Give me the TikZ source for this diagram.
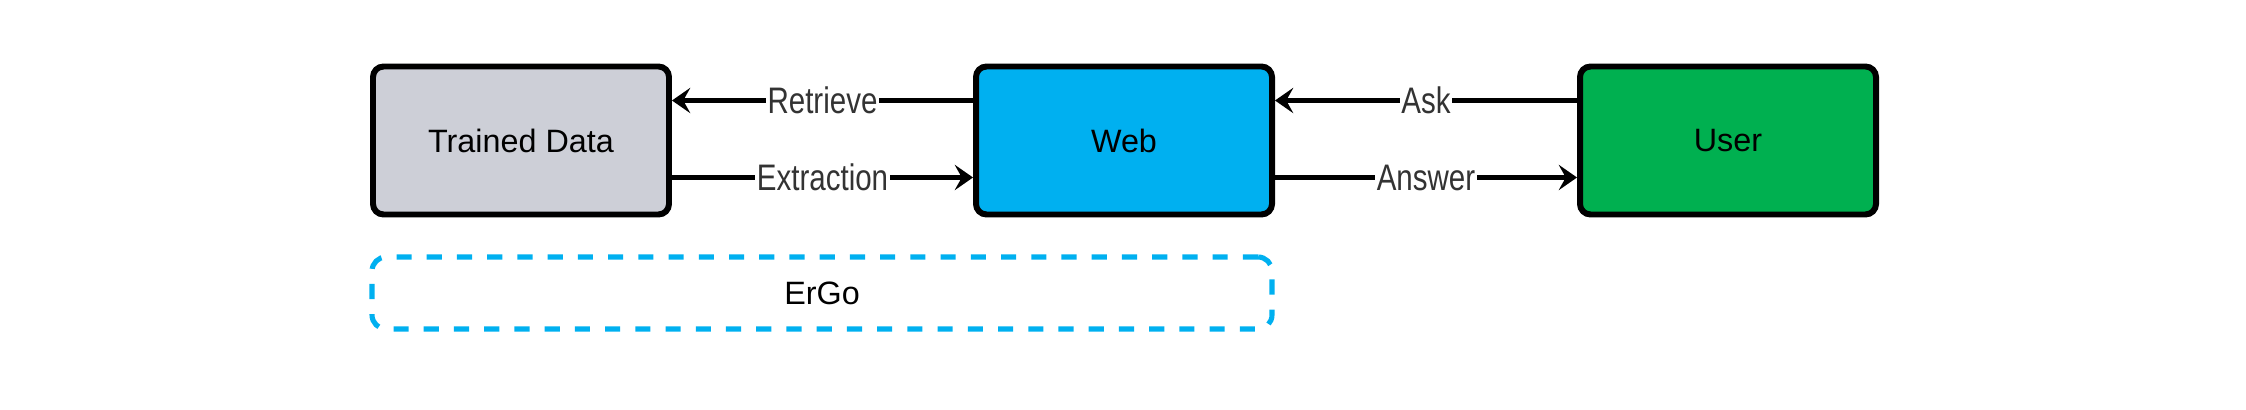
\documentclass[tikz,border=0pt]{standalone}
\usepackage{fontspec}
\setmainfont{Liberation Sans}
\newfontfamily\labelfont[FakeStretch=0.8]{Liberation Sans}
\usetikzlibrary{arrows.meta}
\definecolor{webblue}{HTML}{00B0F0}
\definecolor{usergreen}{HTML}{00B050}
\definecolor{datagray}{HTML}{CDCFD7}

\begin{document}
\begin{tikzpicture}[
    box/.style={draw,line width=1.7pt,rounded corners=3pt,minimum width=2.96cm,minimum height=1.48cm,font=\fontsize{9.2}{11}\selectfont},
    link/.style={line width=1.6pt,-{Stealth[length=5.2pt,width=7.2pt,inset=2pt]}},
    lbl/.style={fill=white,inner sep=0.5pt,text=black!80,font=\labelfont\fontsize{10.5}{12}\selectfont}]
  \useasboundingbox (0,0) rectangle (22.46,4.10);
  \node[box,fill=datagray] (data) at (5.21,2.695) {Trained Data};
  \node[box,fill=webblue] (web) at (11.24,2.695) {Web};
  \node[box,fill=usergreen] (user) at (17.28,2.695) {User};
  \node[box,draw=webblue,line width=1.45pt,dash pattern=on 4.3pt off 4.3pt,rounded corners=4pt,
        minimum width=9.0cm,minimum height=0.72cm] (ergo) at (8.22,1.17) {ErGo};
  % between data and web
  \draw[link] ([yshift=4mm]web.west) -- ([yshift=4mm]data.east) node[lbl,midway] {Retrieve};
  \draw[link] ([yshift=-3.7mm]data.east) -- ([yshift=-3.7mm]web.west) node[lbl,midway] {Extraction};
  % between web and user
  \draw[link] ([yshift=4mm]user.west) -- ([yshift=4mm]web.east) node[lbl,midway] {Ask};
  \draw[link] ([yshift=-3.7mm]web.east) -- ([yshift=-3.7mm]user.west) node[lbl,midway] {Answer};
\end{tikzpicture}
\end{document}
